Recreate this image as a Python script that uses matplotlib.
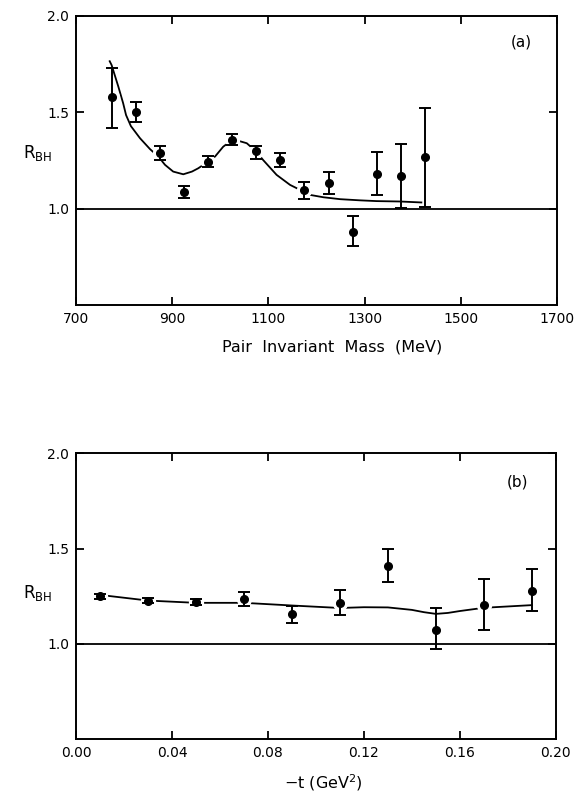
import numpy as np
import matplotlib
matplotlib.use("Agg")
import matplotlib.pyplot as plt

# panel (a): ratio vs pair invariant mass
mass = [775, 825, 875, 925, 975, 1025, 1075, 1125, 1175, 1225, 1275, 1325, 1375, 1425]
r_a = [1.578, 1.503, 1.290, 1.088, 1.245, 1.359, 1.300, 1.255, 1.098, 1.134, 0.881, 1.179, 1.169, 1.271]
r_a_hi = [1.731, 1.552, 1.326, 1.119, 1.276, 1.388, 1.328, 1.290, 1.141, 1.193, 0.964, 1.295, 1.334, 1.522]
r_a_lo = [1.417, 1.452, 1.253, 1.057, 1.216, 1.333, 1.260, 1.219, 1.053, 1.078, 0.805, 1.072, 1.003, 1.012]

# fitted curve (a)
curve_a_x = [770, 774, 788, 798, 804, 814, 833, 854, 871, 885, 902, 923, 941, 954, 975,
             989, 1006, 1025, 1037, 1055, 1075, 1089, 1117, 1145, 1166, 1187, 1214, 1249,
             1290, 1325, 1373, 1418]
curve_a_y = [1.765, 1.745, 1.633, 1.547, 1.486, 1.429, 1.366, 1.309, 1.271, 1.228, 1.193,
             1.179, 1.193, 1.210, 1.245, 1.271, 1.322, 1.358, 1.353, 1.340, 1.296, 1.253,
             1.176, 1.124, 1.098, 1.072, 1.060, 1.050, 1.044, 1.040, 1.038, 1.033]

# panel (b): ratio vs -t
t = [0.01, 0.03, 0.05, 0.07, 0.09, 0.11, 0.13, 0.15, 0.17, 0.19]
r_b = [1.249, 1.227, 1.220, 1.234, 1.157, 1.216, 1.408, 1.074, 1.206, 1.275]
r_b_hi = [1.263, 1.239, 1.235, 1.272, 1.201, 1.285, 1.500, 1.189, 1.341, 1.391]
r_b_lo = [1.234, 1.215, 1.202, 1.196, 1.107, 1.150, 1.322, 0.974, 1.073, 1.173]

curve_b_x = [0.009, 0.03, 0.05, 0.07, 0.09, 0.11, 0.12, 0.13, 0.14, 0.145, 0.15, 0.155,
             0.16, 0.17, 0.19]
curve_b_y = [1.258, 1.227, 1.215, 1.215, 1.201, 1.188, 1.192, 1.191, 1.178, 1.166, 1.157,
             1.162, 1.172, 1.189, 1.203]

fig = plt.figure(figsize=(5.76, 7.95), dpi=100)
ax1 = fig.add_axes([0.132, 0.616, 0.835, 0.364])
ax2 = fig.add_axes([0.132, 0.0704, 0.833, 0.3594])


def draw(ax, x, y, lo, hi, cx, cy):
    y = np.array(y)
    yerr = [y - np.array(lo), np.array(hi) - y]
    ax.plot(cx, cy, color="black", lw=1.3, zorder=1)
    ax.axhline(1.0, color="black", lw=1.3, zorder=1)
    # white halo so the curve breaks around the points
    ax.plot(x, y, "o", color="white", ms=10, zorder=2)
    ax.errorbar(x, y, yerr=yerr, fmt="o", color="black", ms=5.5,
                elinewidth=1.4, capsize=4.5, capthick=1.4, zorder=3)
    ax.set_ylim(0.5, 2.0)
    ax.set_yticks([1.0, 1.5, 2.0])
    ax.set_yticklabels(["1.0", "1.5", "2.0"])
    ax.tick_params(direction="in", top=True, right=True, length=6, width=1.3,
                   labelsize=10, pad=5)
    for s in ax.spines.values():
        s.set_linewidth(1.4)
    ax.set_ylabel(r"R$_{\rm BH}$", rotation=0, fontsize=12)


draw(ax1, mass, r_a, r_a_lo, r_a_hi, curve_a_x, curve_a_y)
ax1.set_xlim(700, 1700)
ax1.set_xticks([700, 900, 1100, 1300, 1500, 1700])
ax1.set_xlabel("Pair  Invariant  Mass  (MeV)", fontsize=11.5)
ax1.xaxis.set_label_coords(0.532, -0.118)
ax1.yaxis.set_label_coords(-0.08, 0.49)
ax1.text(1626, 1.866, "(a)", fontsize=11, ha="center", va="center")

draw(ax2, t, r_b, r_b_lo, r_b_hi, curve_b_x, curve_b_y)
ax2.set_xlim(0.0, 0.20)
ax2.set_xticks([0.0, 0.04, 0.08, 0.12, 0.16, 0.20])
ax2.set_xticklabels(["0.00", "0.04", "0.08", "0.12", "0.16", "0.20"])
ax2.set_xlabel(r"$-$t (GeV$^2$)", fontsize=11.5)
ax2.xaxis.set_label_coords(0.515, -0.115)
ax2.yaxis.set_label_coords(-0.08, 0.476)
ax2.text(0.184, 1.849, "(b)", fontsize=11, ha="center", va="center")

fig.savefig("out.png", dpi=100)
